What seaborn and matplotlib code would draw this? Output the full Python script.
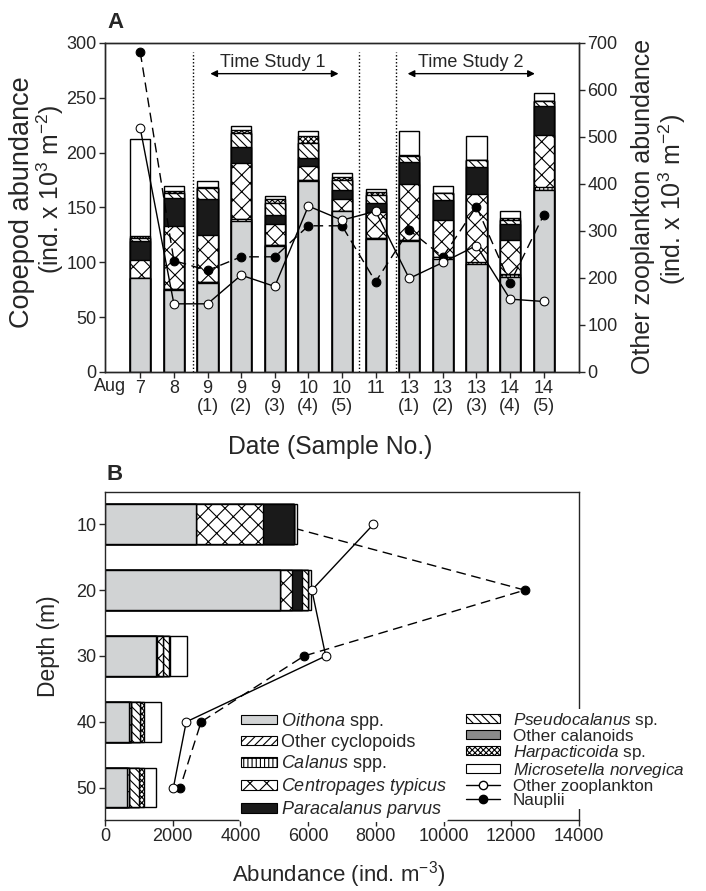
import matplotlib
matplotlib.use("Agg")
import matplotlib.pyplot as plt
from matplotlib.patches import Patch
from matplotlib.lines import Line2D
import numpy as np
import pandas as pd
import seaborn as sns

# ---- panel A data (copepods x10^3 m^-2, left axis) ----
sample_idx = list(range(13))
date_labels = ["7", "8", "9\n(1)", "9\n(2)", "9\n(3)", "10\n(4)", "10\n(5)", "11",
               "13\n(1)", "13\n(2)", "13\n(3)", "14\n(4)", "14\n(5)"]
oithona = [86, 75, 81, 138, 114.5, 174, 147, 121, 119, 103, 98.5, 87, 166]
other_cyc = [0, 1, 1, 1.5, 1.5, 1, 0, 1, 1, 2, 0, 0, 0]
calanus = [0, 0, 0, 0, 0, 0, 0, 0, 0, 0, 2, 2.5, 3]
centropages = [16, 57, 43, 51, 18.5, 13, 11, 24, 51, 34, 62, 31, 47]
paracalanus = [17, 26, 33, 15, 8.5, 7.5, 8, 8, 20, 18, 24, 14, 26.5]
pseudocalanus = [3, 4, 9.5, 12, 11.5, 13, 9, 7.5, 6, 6, 6.5, 4, 5]
other_cal = [0, 0, 0, 0, 0, 0, 0, 0, 0, 0, 0, 0, 0]
harpact = [2, 2, 1.5, 3, 3, 7, 3, 3, 1, 0, 0, 1.5, 0]
microsetella = [88, 5, 5, 4, 3, 4, 3, 2.5, 22, 7, 22, 7, 7]
# right axis
other_zoo = [518, 145, 145, 206, 182, 353, 323, 342, 199, 233, 269, 155, 150]
nauplii = [680, 237, 216, 245, 245, 311, 311, 192, 302, 245, 352, 189, 334]

# ---- panel B data (ind. m^-3) ----
depths = [10, 20, 30, 40, 50]
oithona_b = [2690, 5160, 1500, 720, 660]
other_cyc_b = [0, 0, 0, 0, 0]
calanus_b = [0, 0, 40, 50, 60]
centropages_b = [1990, 365, 180, 0, 0]
paracalanus_b = [890, 295, 0, 0, 0]
pseudocalanus_b = [0, 170, 170, 250, 270]
other_cal_b = [0, 0, 0, 0, 0]
harpact_b = [0, 0, 20, 120, 150]
microsetella_b = [100, 100, 500, 510, 365]
other_zoo_b = [7930, 6110, 6520, 2400, 2020]
nauplii_b = [5150, 12400, 5880, 2840, 2220]

# taxa style: (label, fill, hatch)
taxa = [
    ("$\\mathit{Oithona}$ spp.", "#d1d3d4", ""),
    ("Other cyclopoids", "white", "////"),
    ("$\\mathit{Calanus}$ spp.", "white", "||||-"),
    ("$\\mathit{Centropages\\ typicus}$", "white", "xx"),
    ("$\\mathit{Paracalanus\\ parvus}$", "#1a1a1a", ""),
    ("$\\mathit{Pseudocalanus}$ sp.", "white", "\\\\\\\\"),
    ("Other calanoids", "#8a8a8a", ""),
    ("$\\mathit{Harpacticoida}$ sp.", "white", "xxxxxx"),
    ("$\\mathit{Microsetella\\ norvegica}$", "white", ""),
]

sns.set_style("ticks")
plt.rcParams["font.family"] = ["Liberation Sans", "DejaVu Sans"]
plt.rcParams["mathtext.fontset"] = "custom"
plt.rcParams["mathtext.rm"] = "Liberation Sans"
plt.rcParams["mathtext.it"] = "Liberation Sans:italic"
plt.rcParams["hatch.linewidth"] = 0.8
plt.rcParams["axes.linewidth"] = 1.0

FS_TICK = 13
W, H = 706.0, 891.0


def stackLayers(frame, keys, ax, orient, pos_col):
	# draw cumulative totals from top to bottom so each layer covers the one above
	cum = np.cumsum(np.array([frame[k].values for k in keys]), axis=0)
	for i in reversed(range(len(keys))):
		name, fill, hatch = taxa[i]
		frame["_cum"] = cum[i]
		if orient == "v":
			sns.barplot(data=frame, x=pos_col, y="_cum", color=fill, saturation=1,
			            width=0.6, edgecolor="black", linewidth=1.0, hatch=hatch,
			            errorbar=None, ax=ax, zorder=2)
		else:
			sns.barplot(data=frame, x="_cum", y=pos_col, color=fill, saturation=1,
			            width=0.6, edgecolor="black", linewidth=1.0, hatch=hatch,
			            errorbar=None, orient="h", native_scale=True, ax=ax, zorder=2)
	return ax


def pxText(fig, x, y, s, size, rot=90):
	# place a label by pixel position of its centre
	fig.text(x / W, 1 - y / H, s, fontsize=size, rotation=rot, ha="center", va="center")


keys = ["oithona", "other_cyc", "calanus", "centropages", "paracalanus",
        "pseudocalanus", "other_cal", "harpact", "microsetella"]

dfA = pd.DataFrame({"sample": sample_idx, "oithona": oithona, "other_cyc": other_cyc,
                    "calanus": calanus, "centropages": centropages, "paracalanus": paracalanus,
                    "pseudocalanus": pseudocalanus, "other_cal": other_cal, "harpact": harpact,
                    "microsetella": microsetella})
dfB = pd.DataFrame({"depth": depths, "oithona": oithona_b, "other_cyc": other_cyc_b,
                    "calanus": calanus_b, "centropages": centropages_b,
                    "paracalanus": paracalanus_b, "pseudocalanus": pseudocalanus_b,
                    "other_cal": other_cal_b, "harpact": harpact_b,
                    "microsetella": microsetella_b})

fig = plt.figure(figsize=(7.06, 8.91), dpi=100)
axA = fig.add_axes([0.1487, 0.5825, 0.6714, 0.3693])
axB = fig.add_axes([0.1487, 0.0797, 0.6714, 0.3685])

# ================= panel A =================
stackLayers(dfA, keys, axA, "v", "sample")
axA.set_xlim(-1.05, 13.05)
axA.set_ylim(0, 300)
axA.set_yticks(range(0, 301, 50))
axA.set_xticks(sample_idx)
axA.set_xticklabels(date_labels, fontsize=FS_TICK, linespacing=1.05)
axA.tick_params(axis="both", direction="out", length=4, width=1, labelsize=FS_TICK, pad=2)
axA.set_xlabel("Date (Sample No.)", fontsize=17.8)
axA.xaxis.set_label_coords(0.475, -0.19)
axA.set_ylabel("")
pxText(fig, 22, 202, "Copepod abundance", 19.5)
pxText(fig, 50, 189, "(ind. x 10$^{3}$ m$^{-2}$)", 17.8)
axA.text(-0.9, -0.018, "Aug", transform=axA.get_xaxis_transform(), ha="center", va="top",
         fontsize=FS_TICK)

axA.vlines([1.57, 6.5, 7.6], 0, 292, colors="black", linestyles=(0, (1, 1.5)), lw=1, zorder=1)
axA.annotate("", xy=(2.0, 272), xytext=(5.98, 272),
             arrowprops=dict(arrowstyle="<|-|>", color="black", lw=1, mutation_scale=10))
axA.text(3.95, 282, "Time Study 1", ha="center", va="center", fontsize=FS_TICK)
axA.annotate("", xy=(7.87, 272), xytext=(11.82, 272),
             arrowprops=dict(arrowstyle="<|-|>", color="black", lw=1, mutation_scale=10))
axA.text(9.84, 282, "Time Study 2", ha="center", va="center", fontsize=FS_TICK)
axA.text(0.005, 1.046, "A", transform=axA.transAxes, fontsize=16, fontweight="bold",
         ha="left", va="baseline")

axA2 = axA.twinx()
sns.lineplot(x=sample_idx, y=nauplii, ax=axA2, color="black", lw=1, marker="o",
             markersize=6.3, markerfacecolor="black", markeredgecolor="black", sort=False)
axA2.lines[-1].set_dashes((7, 4))
sns.lineplot(x=sample_idx, y=other_zoo, ax=axA2, color="black", lw=1, marker="o",
             markersize=6.3, markerfacecolor="white", markeredgecolor="black", sort=False)
axA2.set_ylim(0, 700)
axA2.set_yticks(range(0, 701, 100))
axA2.tick_params(axis="y", direction="out", length=4, width=1, labelsize=FS_TICK, pad=2)
axA2.set_ylabel("")
pxText(fig, 643, 206, "Other zooplankton abundance", 18)
pxText(fig, 672, 199, "(ind. x 10$^{3}$ m$^{-2}$)", 18)
for sp in axA2.spines.values():
	sp.set_visible(True)

# ================= panel B =================
sns.lineplot(x=nauplii_b, y=depths, ax=axB, color="black", lw=1, marker="o",
             markersize=6.3, markerfacecolor="black", markeredgecolor="black",
             sort=False, orient="y", zorder=1)
axB.lines[-1].set_dashes((7, 4))
stackLayers(dfB, keys, axB, "h", "depth")
sns.lineplot(x=other_zoo_b, y=depths, ax=axB, color="black", lw=1, marker="o",
             markersize=6.3, markerfacecolor="white", markeredgecolor="black",
             sort=False, orient="y", zorder=3)
axB.set_xlim(0, 14000)
axB.set_ylim(54.9, 5.05)
axB.set_xticks(range(0, 14001, 2000))
axB.set_yticks(depths)
axB.tick_params(axis="both", direction="out", length=4, width=1, labelsize=FS_TICK, pad=2)
axB.set_xlabel("Abundance (ind. m$^{-3}$)", fontsize=16)
axB.xaxis.set_label_coords(0.494, -0.118)
axB.set_ylabel("")
pxText(fig, 49, 646, "Depth (m)", 16.5)
for sp in axB.spines.values():
	sp.set_visible(True)
axB.text(0.004, 1.037, "B", transform=axB.transAxes, fontsize=16, fontweight="bold",
         ha="left", va="baseline")

h1 = [Patch(facecolor=taxa[i][1], edgecolor="black", hatch=taxa[i][2], lw=0.8) for i in range(5)]
h2 = [Patch(facecolor=taxa[i][1], edgecolor="black", hatch=taxa[i][2], lw=0.8) for i in range(5, 9)]
h2 += [Line2D([], [], color="black", lw=1, marker="o", markersize=6, markerfacecolor="white"),
       Line2D([], [], color="black", lw=1, marker="o", markersize=6, markerfacecolor="black")]
l1 = [taxa[i][0] for i in range(5)]
l2 = [taxa[i][0] for i in range(5, 9)] + ["Other zooplankton", "Nauplii"]

leg1 = axB.legend(h1, l1, loc="upper left", bbox_to_anchor=(0.283, 0.338), fontsize=13,
                  frameon=True, facecolor="white", edgecolor="none", framealpha=1,
                  handlelength=2.0, handleheight=0.45, handletextpad=0.2,
                  labelspacing=0.12, borderpad=0.1, borderaxespad=0)
leg1.set_zorder(5)
axB.add_artist(leg1)
leg2 = axB.legend(h2, l2, loc="upper left", bbox_to_anchor=(0.758, 0.338), fontsize=12.3,
                  frameon=True, facecolor="white", edgecolor="none", framealpha=1,
                  handlelength=2.0, handleheight=0.45, handletextpad=0.75,
                  labelspacing=-0.06, borderpad=0.1, borderaxespad=0)
leg2.set_zorder(5)

fig.savefig("out.png", dpi=100)
